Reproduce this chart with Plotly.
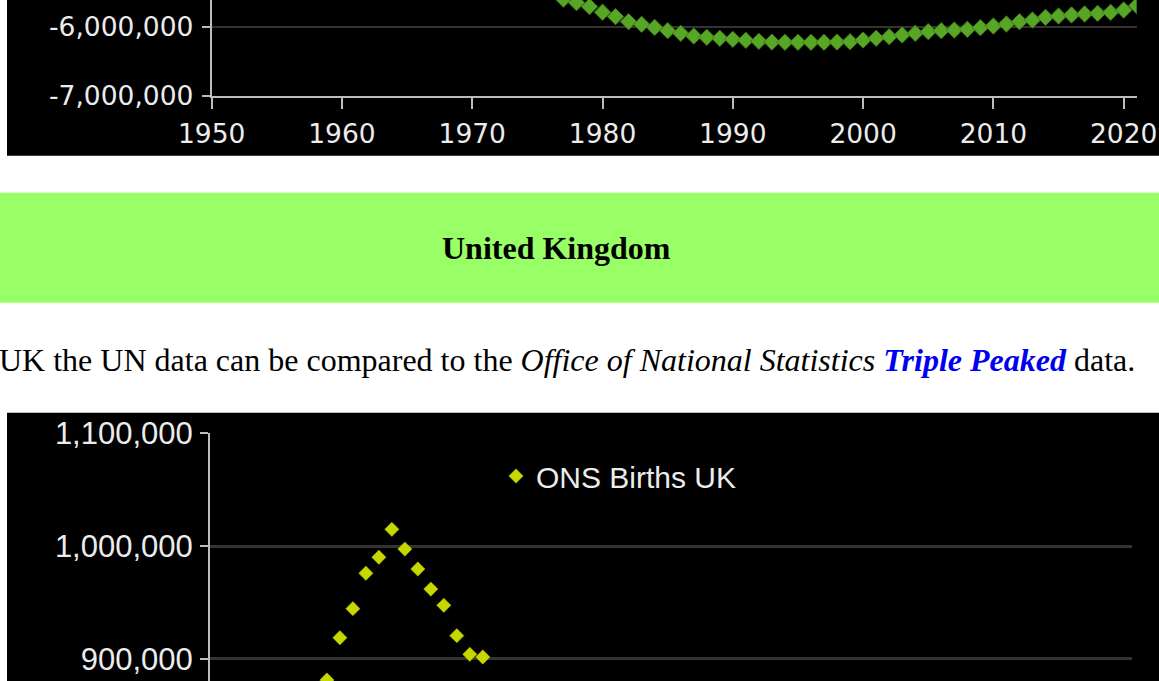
import plotly.graph_objects as go

W, H = 1159, 681

# ---- Top chart (continuation of previous chart) ----
top_years = list(range(1977, 2022))
top_values = [
    -5600000, -5652000, -5710000, -5790000, -5855000, -5928000, -5966000, -6010000,
    -6058000, -6096000, -6135000, -6154000, -6168000, -6183000, -6197000, -6212000,
    -6222000, -6226000, -6226000, -6226000, -6226000, -6222000, -6217000, -6193000,
    -6168000, -6145000, -6120000, -6096000, -6072000, -6058000, -6048000, -6038000,
    -6014000, -5990000, -5961000, -5928000, -5903000, -5864000, -5845000, -5830000,
    -5816000, -5806000, -5792000, -5758000, -5696000,
]
top_xticks = [1950, 1960, 1970, 1980, 1990, 2000, 2010, 2020]
top_yticks = [-7000000, -6000000]
top_yticktext = ["-7,000,000", "-6,000,000"]

# ---- Bottom chart: ONS Births UK ----
ons_years = list(range(1959, 1972))
ons_births = [881100, 918600, 944400, 975800, 990000, 1014800, 997300,
              979600, 961800, 947400, 920400, 903900, 901500]
ons_name = "ONS Births UK"
bot_yticks = [900000, 1000000, 1100000]

heading = "United Kingdom"
paragraph = ("UK the UN data can be compared to the <i>Office of National Statistics</i> "
             "<b><i><span style='color:#0000EE'>Triple Peaked</span></i></b> data.")


def px(x):
    return x / W


def py(y):
    return 1 - y / H


fig = go.Figure()
fig.add_trace(go.Scatter(
    x=top_years, y=top_values, mode="markers", showlegend=False,
    marker=dict(symbol="diamond", size=12.5, color="#58a626",
                line=dict(width=1, color="#3f7c1a")),
    xaxis="x", yaxis="y"))
fig.add_trace(go.Scatter(
    x=ons_years, y=ons_births, mode="markers", name=ons_name,
    marker=dict(symbol="diamond", size=11, color="#c6d800",
                line=dict(width=0.5, color="#a8b800")),
    xaxis="x2", yaxis="y2"))

top_font = dict(family="DejaVu Sans", size=26.5, color="#ececec")
bot_font = dict(family="Liberation Sans", size=31, color="#ececec")
leg_font = dict(family="Liberation Sans", size=30, color="#ececec")

fig.update_layout(
    width=W, height=H,
    margin=dict(l=0, r=0, t=0, b=0, pad=0, autoexpand=False),
    paper_bgcolor="white",
    plot_bgcolor="rgba(0,0,0,0)",
    xaxis=dict(domain=[px(211.7), px(1136.7)], range=[1950, 2021], automargin=False,
               tickvals=top_xticks, ticks="outside", ticklen=11, tickwidth=2,
               tickcolor="#bdbdbd", showline=True, linecolor="#bdbdbd", linewidth=2,
               showgrid=False, zeroline=False, tickfont=top_font, anchor="y",
               ticklabelstandoff=2),
    yaxis=dict(domain=[py(95.7), 1], range=[-7000000, -7000000 + 95.7 / 69 * 1000000],
               automargin=False,
               tickvals=top_yticks, ticktext=top_yticktext, ticks="outside",
               ticklen=8, tickwidth=2, tickcolor="#bdbdbd", showline=True,
               linecolor="#bdbdbd", linewidth=2, showgrid=True, gridcolor="#333333",
               gridwidth=2, zeroline=False, tickfont=top_font, anchor="x",
               ticklabelstandoff=3),
    xaxis2=dict(domain=[px(210), px(1132.3)], range=[1950, 2021], automargin=False,
                showticklabels=False, ticks="", showline=False, showgrid=False,
                zeroline=False, anchor="y2"),
    yaxis2=dict(domain=[0, py(433.3)], range=[1100000 - (681 - 433.3) / 112.7 * 100000, 1100000],
                automargin=False,
                tickvals=bot_yticks, tickformat=",", ticks="outside", ticklen=8,
                tickwidth=2, tickcolor="#bdbdbd", showline=True, linecolor="#bdbdbd",
                linewidth=2, showgrid=True, gridcolor="#333333", gridwidth=3,
                zeroline=False, tickfont=bot_font, anchor="x2",
                ticklabelstandoff=1),
    legend=dict(x=px(496), y=py(476), xanchor="left", yanchor="middle",
                bgcolor="rgba(0,0,0,0)", font=leg_font, borderwidth=0),
    shapes=[
        dict(type="rect", xref="paper", yref="paper", x0=px(7), x1=1, y0=py(155.7), y1=1,
             fillcolor="black", line=dict(width=0), layer="below"),
        dict(type="rect", xref="paper", yref="paper", x0=px(7), x1=1, y0=0, y1=py(412.7),
             fillcolor="black", line=dict(width=0), layer="below"),
        dict(type="rect", xref="paper", yref="paper", x0=0, x1=1, y0=py(302.7), y1=py(192.7),
             fillcolor="#99ff66", line=dict(width=0), layer="below"),
    ],
    annotations=[
        dict(text="<b>" + heading + "</b>", xref="paper", yref="paper",
             x=px(556), y=py(248), xanchor="center", yanchor="middle", showarrow=False,
             font=dict(family="Liberation Serif", size=32, color="black")),
        dict(text=paragraph, xref="paper", yref="paper",
             x=px(-3), y=py(360), xanchor="left", yanchor="middle", showarrow=False,
             font=dict(family="Liberation Serif", size=32, color="black")),
    ],
)

fig.write_html("out.html", config={"displayModeBar": False},
               post_script="document.body.style.margin='0';document.body.style.overflow='hidden';")
